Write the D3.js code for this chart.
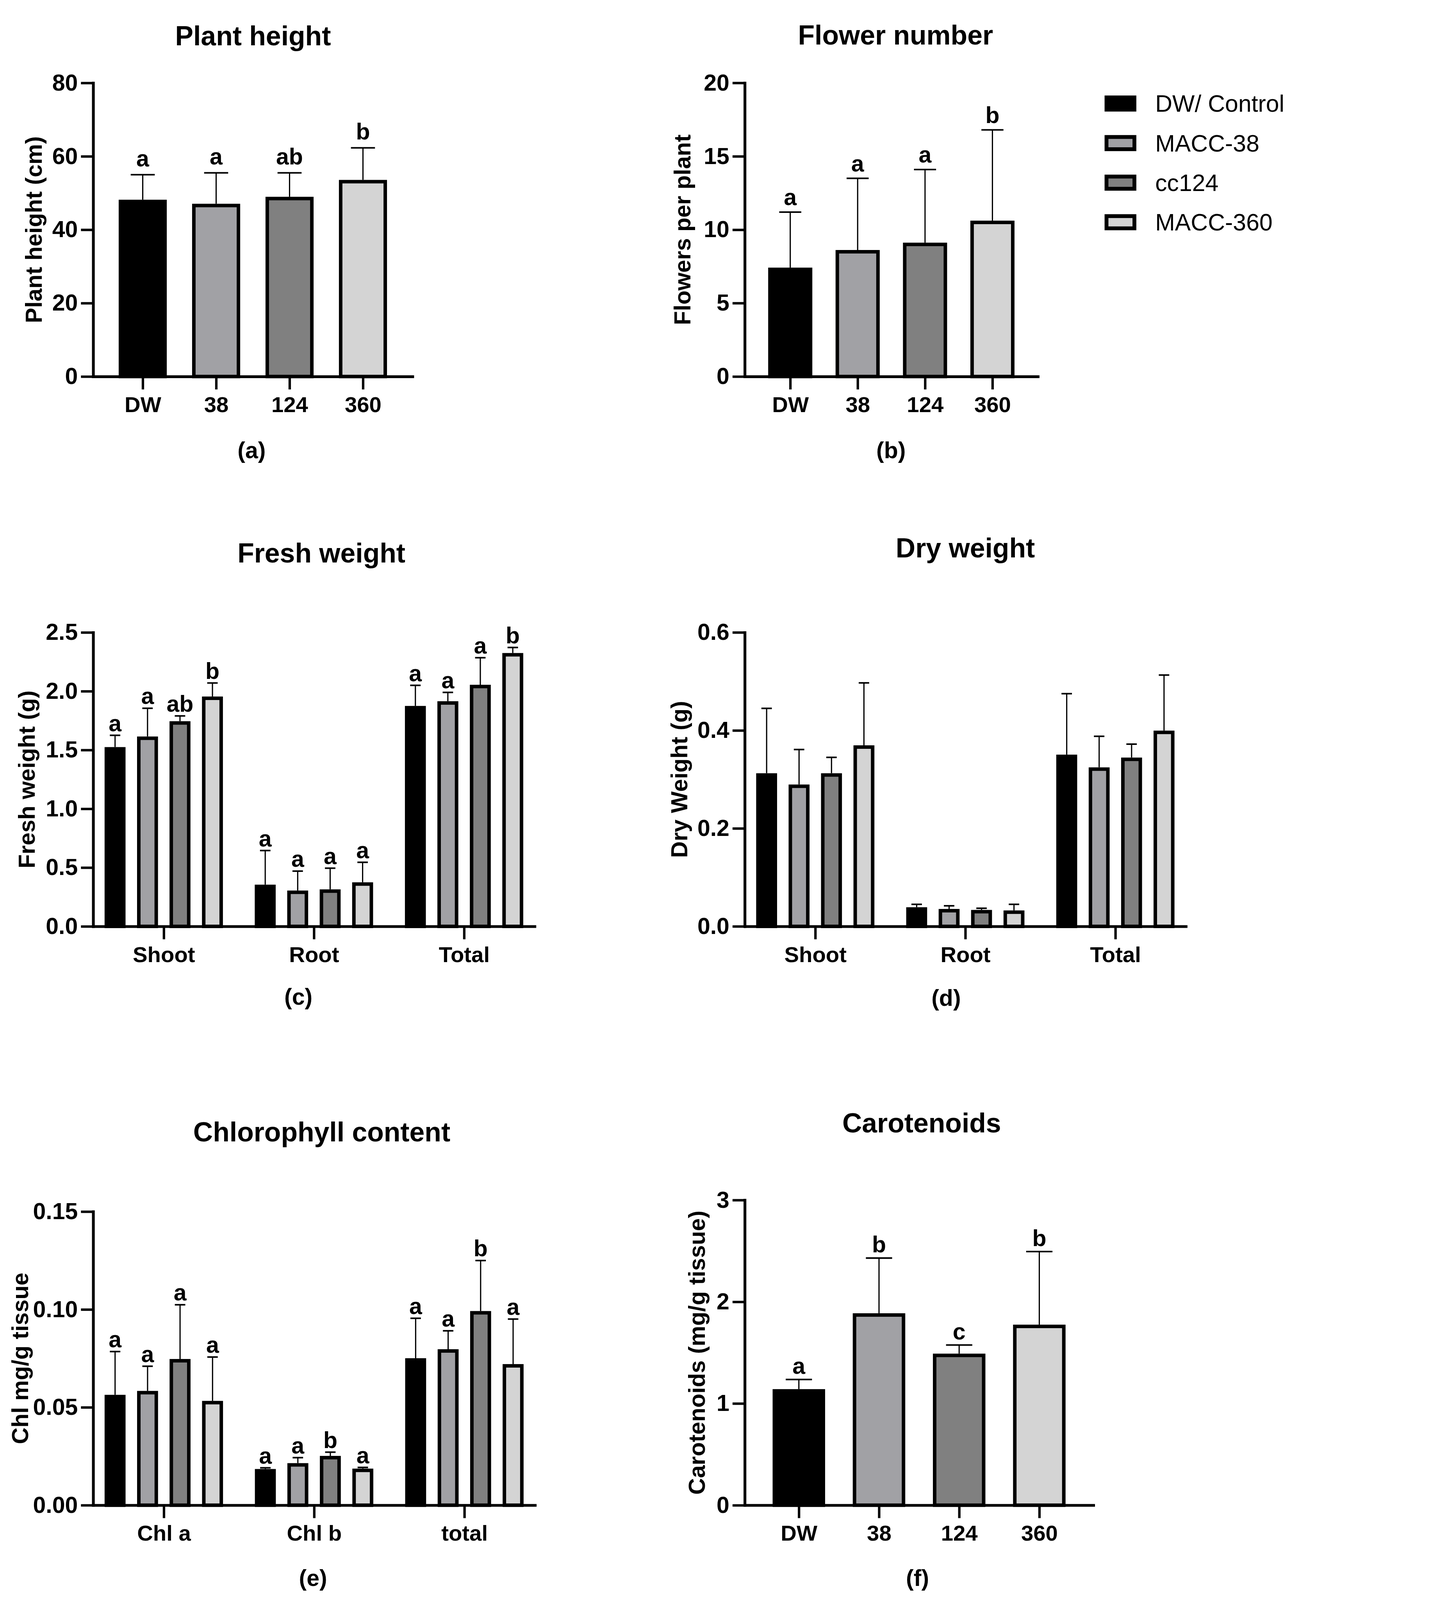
<!DOCTYPE html>
<html>
<head>
<meta charset="utf-8">
<script src="https://cdn.jsdelivr.net/npm/d3@7"></script>
<style>
  html, body { margin: 0; padding: 0; background: #fff; overflow: hidden; }
  svg { display: block; }
  text { font-family: "Liberation Sans", Arial, Helvetica, sans-serif; }
</style>
</head>
<body>
<div id="fig"></div>
<script>
// ---- data ----
const series = ["DW/ Control", "MACC-38", "cc124", "MACC-360"];
const treatments = ["DW", "38", "124", "360"];

// (a) plant height, cm
const heightMean = [47.7, 46.6, 48.5, 53.1];
const heightSD = [7.3, 8.9, 7.0, 9.2];
const heightLetters = ["a", "a", "ab", "b"];

// (b) flowers per plant
const flowerMean = [7.3, 8.5, 9.0, 10.5];
const flowerSD = [3.9, 5.0, 5.1, 6.3];
const flowerLetters = ["a", "a", "a", "b"];

// (c) fresh weight, g  (rows: Shoot, Root, Total)
const organs = ["Shoot", "Root", "Total"];
const freshMean = [[1.51, 1.60, 1.73, 1.94], [0.34, 0.29, 0.30, 0.36], [1.86, 1.90, 2.04, 2.31]];
const freshSD = [[0.115, 0.255, 0.06, 0.13], [0.305, 0.18, 0.195, 0.185], [0.19, 0.09, 0.245, 0.062]];
const freshLetters = [["a", "a", "ab", "b"], ["a", "a", "a", "a"], ["a", "a", "a", "b"]];

// (d) dry weight, g
const dryMean = [[0.309, 0.286, 0.309, 0.366], [0.0355, 0.032, 0.030, 0.029], [0.347, 0.321, 0.341, 0.396]];
const drySD = [[0.136, 0.075, 0.036, 0.131], [0.0095, 0.010, 0.007, 0.016], [0.128, 0.067, 0.031, 0.117]];

// (e) chlorophyll, mg/g tissue
const pigments = ["Chl a", "Chl b", "total"];
const chlMean = [[0.0555, 0.0575, 0.0738, 0.0524], [0.0176, 0.0206, 0.0243, 0.0178], [0.0742, 0.0788, 0.0983, 0.0712]];
const chlSD = [[0.023, 0.0135, 0.0286, 0.0233], [0.0015, 0.0037, 0.0028, 0.0015], [0.0213, 0.0103, 0.0267, 0.0239]];
const chlLetters = [["a", "a", "a", "a"], ["a", "a", "b", "a"], ["a", "a", "b", "a"]];

// (f) carotenoids, mg/g tissue
const carMean = [1.124, 1.87, 1.473, 1.758];
const carSD = [0.112, 0.56, 0.102, 0.736];
const carLetters = ["a", "b", "c", "b"];

// ---- drawing ----
const W = 3726, H = 4582;
// scale to whatever the window really is, so nothing falls off the bottom
const vw = window.innerWidth || W, vh = window.innerHeight || H;
const k = Math.min(vw / W, vh / H, 1);
const svg0 = d3.select("#fig").append("svg")
  .attr("width", Math.floor(W * k)).attr("height", Math.floor(H * k))
  .attr("viewBox", `0 0 ${W} ${H}`);
svg0.append("rect").attr("width", W).attr("height", H).attr("fill", "#fff");
const svg = svg0.append("g");

const fill = d3.scaleOrdinal().domain(series).range(["#000000", "#a1a1a5", "#808080", "#d4d4d4"]);

const BAR_STROKE = 10;

function frame(c, x, y, yTicks, fmt) {
  const g = svg.append("g");
  // y axis
  const ya = g.append("g").attr("transform", `translate(${c.x0},0)`)
    .call(d3.axisLeft(y).tickValues(yTicks).tickFormat(fmt).tickSize(35).tickSizeOuter(0).tickPadding(9));
  // x axis
  const xa = g.append("g").attr("transform", `translate(0,${c.yBot})`)
    .call(d3.axisBottom(x).tickSize(37).tickSizeOuter(0).tickPadding(28));
  [ya, xa].forEach(a => {
    a.select(".domain").attr("stroke", "#000").attr("stroke-width", 8).attr("stroke-linecap", "square");
    a.selectAll(".tick line").attr("stroke", "#000").attr("stroke-width", 7);
    a.selectAll("text").attr("fill", "#000").attr("font-weight", "bold").style("font-family", "'Liberation Sans', Arial, sans-serif");
  });
  ya.selectAll("text").attr("font-size", 66);
  xa.selectAll("text").attr("font-size", 63).attr("dy", null).attr("y", 102);

  g.append("text").attr("x", c.titleX).attr("y", c.titleY).attr("text-anchor", "middle")
    .attr("font-size", 78).attr("font-weight", "bold").text(c.title);

  g.append("text")
    .attr("transform", `translate(${c.yLabelX},${(c.yTop + c.yBot) / 2}) rotate(-90)`)
    .attr("text-anchor", "middle").attr("dy", "0.36em")
    .attr("font-size", 66).attr("font-weight", "bold").text(c.yLabel);

  g.append("text").attr("x", c.tagX).attr("y", c.tagY).attr("dy", "0.3em").attr("text-anchor", "middle")
    .attr("font-size", 66).attr("font-weight", "bold").text(c.tag);
  return g;
}

function bars(g, rows, y, outerW, gap) {
  const capW = outerW * 0.5;
  const gb = g.append("g");
  gb.selectAll("rect").data(rows).join("rect")
    .attr("x", d => d.cx - (outerW - BAR_STROKE) / 2)
    .attr("y", d => y(d.m))
    .attr("width", outerW - BAR_STROKE)
    .attr("height", d => y(0) - y(d.m))
    .attr("fill", d => fill(d.s))
    .attr("stroke", "#000").attr("stroke-width", BAR_STROKE);
  gb.selectAll("line.stem").data(rows).join("line").attr("class", "stem")
    .attr("x1", d => d.cx).attr("x2", d => d.cx)
    .attr("y1", d => y(d.m) - BAR_STROKE / 2).attr("y2", d => y(d.m + d.sd))
    .attr("stroke", "#000").attr("stroke-width", 3.5);
  gb.selectAll("line.cap").data(rows).join("line").attr("class", "cap")
    .attr("x1", d => d.cx - capW / 2).attr("x2", d => d.cx + capW / 2)
    .attr("y1", d => y(d.m + d.sd)).attr("y2", d => y(d.m + d.sd))
    .attr("stroke", "#000").attr("stroke-width", 4.5);
  gb.selectAll("text.sig").data(rows.filter(d => d.l)).join("text").attr("class", "sig")
    .attr("x", d => d.cx).attr("y", d => y(d.m + d.sd) - gap)
    .attr("text-anchor", "middle").attr("font-size", 66).attr("font-weight", "bold")
    .text(d => d.l);
}

function drawSimple(c, means, sds, letters) {
  const x = d3.scalePoint().domain(treatments).range([c.x0, c.x1]).padding(0.675);
  const y = d3.scaleLinear().domain([0, c.max]).range([c.yBot, c.yTop]);
  const g = frame(c, x, y, c.ticks, c.fmt);
  const rows = treatments.map((t, i) => ({
    cx: x(t), s: series[i], m: means[i], sd: sds[i], l: letters ? letters[i] : null
  }));
  bars(g, rows, y, x.step() * 0.655, c.gap);
}

function drawGrouped(c, groups, means, sds, letters) {
  const x0 = d3.scalePoint().domain(groups).range([c.x0, c.x1]).padding(0.47);
  const half = x0.step() * 0.394;
  const x1 = d3.scaleBand().domain(series).range([-half, half]).paddingInner(0.355);
  const y = d3.scaleLinear().domain([0, c.max]).range([c.yBot, c.yTop]);
  const g = frame(c, x0, y, c.ticks, c.fmt);
  const rows = [];
  groups.forEach((grp, gi) => series.forEach((s, si) => rows.push({
    cx: x0(grp) + x1(s) + x1.bandwidth() / 2, s, m: means[gi][si], sd: sds[gi][si],
    l: letters ? letters[gi][si] : null
  })));
  bars(g, rows, y, x1.bandwidth(), c.gap);
}

drawSimple({
  x0: 267, x1: 1182, yTop: 237, yBot: 1078, max: 80, ticks: [0, 20, 40, 60, 80], fmt: d3.format("d"),
  title: "Plant height", titleX: 725, titleY: 129, yLabel: "Plant height (cm)", yLabelX: 96,
  tag: "(a)", tagX: 721, tagY: 1292, gap: 24
}, heightMean, heightSD, heightLetters);

drawSimple({
  x0: 2134, x1: 2974, yTop: 237, yBot: 1078, max: 20, ticks: [0, 5, 10, 15, 20], fmt: d3.format("d"),
  title: "Flower number", titleX: 2566, titleY: 127, yLabel: "Flowers per plant", yLabelX: 1955,
  tag: "(b)", tagX: 2553, tagY: 1292, gap: 20
}, flowerMean, flowerSD, flowerLetters);

drawGrouped({
  x0: 267, x1: 1532, yTop: 1811, yBot: 2653, max: 2.5, ticks: [0, 0.5, 1, 1.5, 2, 2.5], fmt: d3.format(".1f"),
  title: "Fresh weight", titleX: 921, titleY: 1611, yLabel: "Fresh weight (g)", yLabelX: 76,
  tag: "(c)", tagX: 855, tagY: 2857, gap: 12
}, organs, freshMean, freshSD, freshLetters);

drawGrouped({
  x0: 2134, x1: 3398, yTop: 1811, yBot: 2653, max: 0.6, ticks: [0, 0.2, 0.4, 0.6], fmt: d3.format(".1f"),
  title: "Dry weight", titleX: 2766, titleY: 1596, yLabel: "Dry Weight (g)", yLabelX: 1946,
  tag: "(d)", tagX: 2711, tagY: 2861, gap: 12
}, organs, dryMean, drySD, null);

drawGrouped({
  x0: 267, x1: 1533, yTop: 3470, yBot: 4311, max: 0.15, ticks: [0, 0.05, 0.10, 0.15], fmt: d3.format(".2f"),
  title: "Chlorophyll content", titleX: 922, titleY: 3269, yLabel: "Chl mg/g tissue", yLabelX: 57,
  tag: "(e)", tagX: 897, tagY: 4523, gap: 12
}, pigments, chlMean, chlSD, chlLetters);

drawSimple({
  x0: 2134, x1: 3133, yTop: 3437, yBot: 4311, max: 3, ticks: [0, 1, 2, 3], fmt: d3.format("d"),
  title: "Carotenoids", titleX: 2641, titleY: 3243, yLabel: "Carotenoids (mg/g tissue)", yLabelX: 1996,
  tag: "(f)", tagX: 2629, tagY: 4523, gap: 16
}, carMean, carSD, carLetters);

// legend
const ly = d3.scalePoint().domain(series).range([296, 636]);
const leg = svg.append("g");
leg.selectAll("rect").data(series).join("rect")
  .attr("x", 3165 + 5.5).attr("y", d => ly(d) - 22.5 + 5)
  .attr("width", 80).attr("height", 35)
  .attr("fill", d => fill(d)).attr("stroke", "#000").attr("stroke-width", 11);
leg.selectAll("text").data(series).join("text")
  .attr("x", 3310).attr("y", d => ly(d) + 24)
  .attr("font-size", 68).attr("fill", "#000").text(d => d);
</script>
</body>
</html>
